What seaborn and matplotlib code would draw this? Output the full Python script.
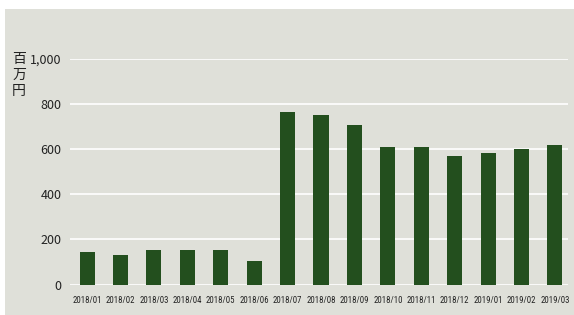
import numpy as np
import pandas as pd
import seaborn as sns
import matplotlib.pyplot as plt
import matplotlib.patches as mpatches
from matplotlib import font_manager

months = ['2018/01', '2018/02', '2018/03', '2018/04', '2018/05', '2018/06', '2018/07',
          '2018/08', '2018/09', '2018/10', '2018/11', '2018/12', '2019/01', '2019/02', '2019/03']
values = [146, 133, 155, 155, 155, 102, 766, 752, 708, 610, 610, 570, 584, 601, 619]
yticks = [0, 200, 400, 600, 800, 1000]
ytick_labels = ['0', '200', '400', '600', '800', '1,000']

bg = '#dfe0d9'
bar_color = '#234f1e'

df = pd.DataFrame({'month': months, 'value': values})

sns.set_style('white')
plt.rcParams['font.family'] = ['Noto Sans CJK JP', 'DejaVu Sans']

# look for a condensed face for the month labels
names = {f.name for f in font_manager.fontManager.ttflist}
cond = [n for n in ['Liberation Sans Narrow', 'Roboto Condensed', 'Open Sans Condensed'] if n in names]
print(sorted(names))
print([(f.name, f.stretch, f.fname) for f in font_manager.fontManager.ttflist if 'DejaVu' in f.name])

fig = plt.figure(figsize=(5.74, 3.15), dpi=100, facecolor='white')
fig.patches.append(mpatches.Rectangle((5 / 574, 0), 1, 1 - 9 / 315, transform=fig.transFigure,
                                      facecolor=bg, edgecolor='none', zorder=-10))
ax = fig.add_axes([70 / 574, 1 - 284.5 / 315, (568 - 70) / 574, (284.5 - 59) / 315])
ax.patch.set_alpha(0)

sns.barplot(data=df, x='month', y='value', color=bar_color, width=0.45, saturation=1,
            linewidth=0, ax=ax, zorder=3)

ax.set_ylim(0, 1000)
ax.set_xlim(-0.51, 14.39)
ax.set_yticks(yticks)
ax.set_yticklabels(ytick_labels, fontsize=9, color='#222222')
ax.yaxis.grid(True, color='white', linewidth=1.2, zorder=1)
ax.set_axisbelow(True)
for s in ax.spines.values():
    s.set_visible(False)
ax.tick_params(axis='y', length=0, pad=6)
ax.tick_params(axis='x', length=5, width=1, color='white', pad=3)
for lab in ax.get_xticklabels():
    if cond:
        lab.set_fontfamily(cond[0])
        lab.set_fontsize(6.3)
    else:
        lab.set_fontfamily('DejaVu Sans')
        lab.set_fontstretch('condensed')
        lab.set_fontsize(5.6)
    lab.set_color('#222222')
ax.set_xlabel('')
ax.set_ylabel('')

fig.text(19 / 574, 1 - 75 / 315, '百\n万\n円', fontsize=10, ha='center', va='center',
         linespacing=1.15, color='#222222')

fig.savefig('out.png', dpi=100, facecolor='white')
